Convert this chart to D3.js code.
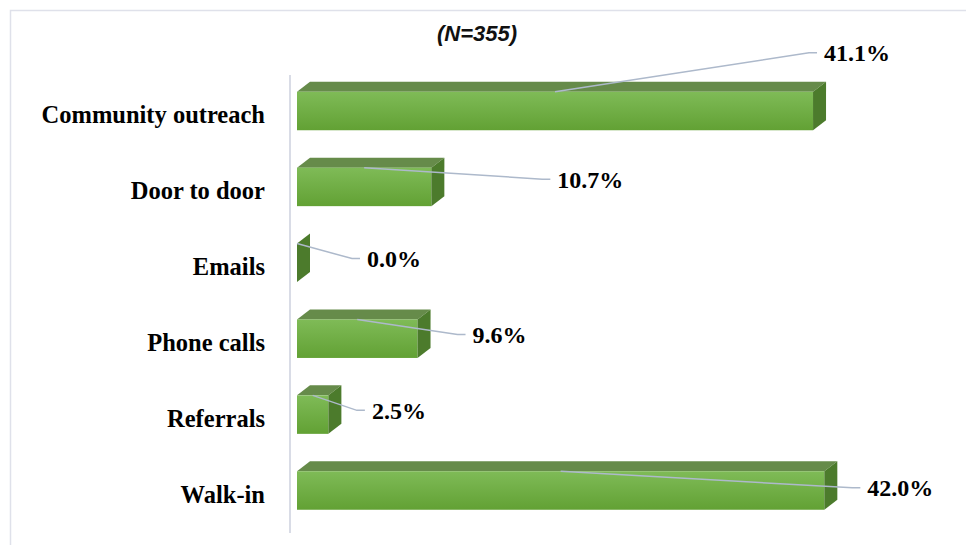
<!DOCTYPE html>
<html>
<head>
<meta charset="utf-8">
<script src="https://cdn.jsdelivr.net/npm/d3@7"></script>
<style>
  html, body { margin: 0; padding: 0; background: #fff; }
  svg { display: block; }
  .serif { font-family: 'Liberation Serif', 'Times New Roman', serif; font-weight: bold; }
  .title { font-family: 'Liberation Sans', Arial, sans-serif; font-weight: bold; font-style: italic; }
</style>
</head>
<body>
<svg id="chart" width="966" height="545"></svg>
<script>
// ---- data ----
const categories = ["Community outreach", "Door to door", "Emails", "Phone calls", "Referrals", "Walk-in"];
const values = [41.1, 10.7, 0.0, 9.6, 2.5, 42.0];
const valueLabels = ["41.1%", "10.7%", "0.0%", "9.6%", "2.5%", "42.0%"];
const title = "(N=355)";
// manual label placement (offsets from bar end / bar top), as in the original
const labelDx = [11, 126, 70, 55, 43.5, 43];
const labelDy = [-39, 11.5, 15, 15, 15, 16.5];

// ---- layout ----
const W = 966, H = 545;
const svg = d3.select("#chart");
const depthX = 13, depthY = 10, frontH = 38.5;

const x = d3.scaleLinear().domain([0, 45]).range([297, 862]);
const y = d3.scalePoint().domain(categories).range([111, 490.5]);

// chart border (left & top visible)
svg.append("path")
  .attr("d", `M10.5,${H} L10.5,10.5 L${W},10.5`)
  .attr("fill", "none").attr("stroke", "#dfe1ea").attr("stroke-width", 1.5);

// gradient for front faces
const defs = svg.append("defs");
const grad = defs.append("linearGradient").attr("id", "front").attr("x1", 0).attr("y1", 0).attr("x2", 0).attr("y2", 1);
grad.append("stop").attr("offset", "0%").attr("stop-color", "#7fbb57");
grad.append("stop").attr("offset", "100%").attr("stop-color", "#62a134");

// vertical axis line
svg.append("line")
  .attr("x1", 290).attr("x2", 290).attr("y1", 75).attr("y2", 533)
  .attr("stroke", "#d9dce6").attr("stroke-width", 2);

// title
svg.append("text")
  .attr("class", "title")
  .attr("x", 477).attr("y", 41)
  .attr("text-anchor", "middle")
  .attr("font-size", 22).attr("fill", "#111")
  .text(title);

const data = categories.map((c, i) => ({ c, v: values[i], lbl: valueLabels[i], i }));

const g = svg.append("g");
const bars = g.selectAll("g.bar").data(data).enter().append("g").attr("class", "bar");

bars.each(function(d) {
  const sel = d3.select(this);
  const x0 = x(0), x1 = x(d.v);
  const yT = y(d.c) - frontH / 2, yB = y(d.c) + frontH / 2;
  if (x1 > x0) {
    sel.append("path")
      .attr("d", `M${x0},${yT} L${x0 + depthX},${yT - depthY} L${x1 + depthX},${yT - depthY} L${x1},${yT} Z`)
      .attr("fill", "#668b4a");
    sel.append("rect")
      .attr("x", x0).attr("y", yT).attr("width", x1 - x0).attr("height", frontH)
      .attr("fill", "url(#front)");
  }
  sel.append("path")
    .attr("d", `M${x1},${yT} L${x1 + depthX},${yT - depthY} L${x1 + depthX},${yB - depthY} L${x1},${yB} Z`)
    .attr("fill", "#4c7b2c");
});

// category labels
svg.append("g").selectAll("text").data(data).enter().append("text")
  .attr("class", "serif")
  .attr("x", 265).attr("y", d => y(d.c) + 12)
  .attr("text-anchor", "end")
  .attr("font-size", 24.5).attr("fill", "#000")
  .text(d => d.c);

// leader lines + value labels
const lab = svg.append("g").selectAll("g").data(data).enter().append("g");
lab.append("path")
  .attr("d", d => {
    const x0 = x(0), x1 = x(d.v);
    const yT = y(d.c) - frontH / 2;
    const ax = (x0 + x1) / 2, ay = yT;
    const tx = x1 + labelDx[d.i], ty = yT + labelDy[d.i];
    return `M${ax},${ay} L${tx - 15},${ty} L${tx - 7},${ty}`;
  })
  .attr("fill", "none").attr("stroke", "#adb9cb").attr("stroke-width", 1.5);
lab.append("text")
  .attr("class", "serif")
  .attr("x", d => x(d.v) + labelDx[d.i])
  .attr("y", d => y(d.c) - frontH / 2 + labelDy[d.i] + 8.5)
  .attr("font-size", 24).attr("fill", "#000")
  .text(d => d.lbl);
</script>
</body>
</html>
